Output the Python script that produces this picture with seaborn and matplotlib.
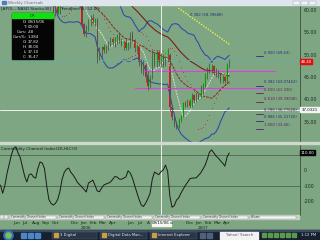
import numpy as np
import pandas as pd
import matplotlib
matplotlib.use("Agg")
import matplotlib.pyplot as plt
import matplotlib.dates as mdates
from matplotlib.patches import Rectangle, Circle
import seaborn as sns

sns.set_theme(style="white")
plt.rcParams['font.family'] = ['DejaVu Sans']

# ---------------- data (weekly APOL bars) ----------------
start_date = "2005-04-22"
opens = [71.5, 72.5,
         73.0, 74.0, 75.5, 77.0, 78.0, 79.0, 80.0, 79.0, 78.0, 77.5,
         77.0, 75.0, 74.0, 75.0, 74.0, 72.0, 73.0, 72.0, 70.0, 71.0,
         68.0, 66.0, 63.5, 59.6, 60.6, 59.4, 62.0, 63.5, 64.0, 65.5,
         66.0, 65.0, 64.0, 63.0, 62.5, 61.0, 56.8, 54.6, 56.0, 57.5,
         58.3, 57.2, 57.8, 49.2, 51.2, 51.7, 51.0, 51.8, 52.5, 53.6,
         52.8, 53.5, 54.2, 53.0, 52.3, 53.0, 51.4, 52.4, 54.6, 53.4,
         51.4, 51.9, 48.3, 46.5, 47.8, 45.0, 43.0, 44.8, 50.2, 48.0,
         50.5, 48.3, 49.5, 47.8, 49.0, 50.0, 38.2, 36.0, 34.5, 33.8,
         35.3, 36.2, 39.2, 38.8, 39.6, 38.5, 41.0, 39.8, 41.0, 40.5,
         42.8, 43.3, 45.6, 46.8, 46.5, 47.4, 46.0, 45.4, 46.0, 44.2,
         45.0, 44.1, 47.8]
highs = [73.5, 74.2,
         75.0, 76.2, 77.8, 78.8, 80.0, 81.0, 80.8, 79.6, 78.8, 78.2,
         77.4, 75.6, 76.0, 75.8, 74.4, 73.8, 73.6, 72.4, 71.8, 71.4,
         68.6, 66.8, 64.0, 61.5, 61.8, 62.5, 64.0, 65.0, 66.0, 67.0,
         66.6, 65.8, 64.6, 63.6, 62.8, 61.4, 57.2, 56.6, 58.0, 58.8,
         59.0, 58.3, 58.3, 51.8, 52.0, 52.3, 52.2, 53.0, 54.0, 54.0,
         53.9, 54.6, 55.0, 53.7, 53.3, 53.8, 52.8, 55.0, 55.2, 53.6,
         52.4, 52.0, 49.0, 48.8, 48.2, 46.3, 45.4, 51.0, 50.5, 51.0,
         50.9, 50.3, 50.2, 49.8, 51.5, 50.3, 38.6, 36.6, 35.0, 35.8,
         36.5, 39.5, 39.6, 40.0, 40.2, 41.5, 41.2, 41.4, 41.5, 43.2,
         43.7, 46.0, 47.2, 48.1, 48.0, 47.6, 47.0, 46.6, 46.1, 45.5,
         45.2, 48.2, 49.0]
lows = [71.0, 72.0,
        72.0, 73.4, 75.0, 76.2, 77.2, 78.2, 78.2, 77.0, 76.6, 76.0,
        74.2, 73.0, 73.5, 73.2, 71.2, 71.5, 71.2, 69.4, 69.2, 67.5,
        65.4, 63.5, 59.3, 58.6, 59.0, 59.0, 61.5, 62.6, 63.4, 64.6,
        64.2, 63.4, 62.4, 61.6, 60.6, 56.4, 54.2, 54.0, 55.2, 56.4,
        56.8, 56.5, 48.1, 48.8, 49.5, 50.4, 50.3, 51.0, 51.7, 52.2,
        51.8, 52.5, 52.6, 52.0, 51.0, 51.0, 51.0, 51.6, 52.8, 50.6,
        50.5, 47.5, 45.9, 45.4, 43.9, 42.1, 42.5, 44.5, 47.3, 47.2,
        47.5, 47.2, 47.2, 47.4, 48.4, 37.5, 35.4, 33.9, 33.37, 33.6,
        34.9, 36.0, 38.4, 38.2, 38.0, 38.2, 39.3, 39.4, 39.9, 40.3,
        41.3, 42.8, 44.5, 45.9, 45.9, 45.5, 45.0, 44.8, 43.7, 43.7,
        43.7, 43.9, 47.0]
closes = [72.5, 73.0,
          74.0, 75.5, 77.0, 78.0, 79.0, 80.0, 79.0, 78.0, 77.5, 77.0,
          75.0, 74.0, 75.0, 74.0, 72.0, 73.0, 72.0, 70.0, 71.0, 68.0,
          66.0, 64.0, 59.6, 60.6, 59.4, 62.0, 63.5, 64.0, 65.5, 66.0,
          65.0, 64.0, 63.0, 62.5, 61.2, 56.8, 54.6, 56.0, 57.5, 58.3,
          57.2, 57.8, 49.2, 51.2, 51.7, 51.0, 51.8, 52.5, 53.6, 52.8,
          53.5, 54.2, 53.0, 52.3, 53.0, 51.4, 52.4, 54.6, 53.4, 51.4,
          51.9, 48.3, 46.5, 47.8, 45.0, 43.0, 44.8, 50.2, 48.0, 50.5,
          48.3, 49.5, 47.8, 49.0, 51.0, 38.2, 36.0, 34.5, 33.8, 35.3,
          36.2, 39.2, 38.8, 39.6, 38.5, 41.0, 39.8, 41.0, 40.5, 42.8,
          43.3, 45.6, 46.8, 46.5, 47.4, 46.0, 45.4, 46.0, 44.2, 45.0,
          44.1, 47.8, 48.4]
cci_values = [-97, -150, -100, -20, 40, 100, 140, 150, 110, 80,
              20, -40, -77, -30, -25, -45, -52, 10, 52, 45,
              10, -100, -190, -215, -226, -215, -190, -140, -60, -15,
              5, 13, -15, -32, -55, -80, -95, -110, -125, -142,
              -84, -75, -65, -100, -135, -140, -115, -97, -90, -85,
              -77, -60, -42, -45, -58, -60, -52, -45, -5, -20,
              -52, -100, -145, -190, -225, -235, -213, -185, -150, -60,
              -13, -22, -30, -10, 0, 32, -10, -170, -240, -230,
              -194, -180, -150, -125, -100, -80, -58, -52, -52, -50,
              -35, -19, 5, 30, 70, 115, 130, 110, 90, 77,
              60, 45, 25, 84, 110]

price_ticks = [35, 40, 45, 50, 55, 60]
cci_ticks = [100, 0, -100, -200]
fib_ratios = ["0.000", "0.382", "0.500", "0.618", "0.786", "0.886", "1.000"]
fib_prices = [49.63, 43.07462, 41.330, 39.39038, 36.77626, 35.21726, 33.46]
fib_texts = ["49.63", "43.07462", "41.330", "39.39038", "36.77626", "35.21726", "33.46"]
fib_colors = ["#22307a", "#22307a", "#6a1f55", "#6a1f55", "#5a1f60", "#22307a", "#5a1f60"]
magenta_levels = [46.4, 42.5]
magenta_from = ["2006-07-21", "2006-06-23"]
magenta_to = ["2007-09-14", "2007-08-10"]
teal_level = 48.8
cross_date = "2006-09-15"
cross_price = 37.65
trend_dates = ["2006-11-09", "2007-04-23"]
trend_prices = [60.45, 52.2]
month_labels = ["Jun", "Jul", "Aug", "Sep", "Oct", "Dec", "Jan", "Feb", "Mar", "Apr",
                "Jun", "Jul", "A", "ct", "Dec", "Jan", "Feb", "Mar", "Apr"]
month_dates = ["2005-06-01", "2005-07-01", "2005-08-01", "2005-09-01", "2005-10-01",
               "2005-12-01", "2006-01-01", "2006-02-01", "2006-03-01", "2006-04-01",
               "2006-06-01", "2006-07-01", "2006-08-01", "2006-10-14", "2006-12-01",
               "2007-01-01", "2007-02-01", "2007-03-01", "2007-04-01"]
year_labels = ["2006", "2007"]
year_dates = ["2006-01-01", "2007-01-08"]
info_keys = ["D:", "T:", "Curs:", "Curs%:", "O:", "H:", "L:", "C:"]
info_vals = ["09/15/06", "00:00", ".48", "1.384", "37.82", "38.00", "37.10", "35.47"]

# ---------------- frame ----------------
dates = pd.date_range(start_date, periods=len(closes), freq="7D")
dn = mdates.date2num(dates)
df = pd.DataFrame({"d": dn, "o": opens, "h": highs, "l": lows, "c": closes})
df["cci"] = cci_values

W, H = 320, 240
BG = "#7ea683"
TXT = "#1c2a1c"
fig = plt.figure(figsize=(3.2, 2.4), dpi=100, facecolor=BG)


def fb(x, y, w, h):
    return [x / W, 1 - (y + h) / H, w / W, h / H]


base = fig.add_axes([0, 0, 1, 1], zorder=0)
base.set_xlim(0, W); base.set_ylim(H, 0); base.axis("off")

x0 = dn[0] - 1.5
xspan = 300 * 7 / 2.2
XL = (x0, x0 + xspan)

# ---------- price panel ----------
ax = fig.add_axes(fb(0, 5, 300, 137), zorder=2)
ax.set_facecolor(BG)
ax.set_xlim(*XL)
ax.set_ylim(30.47, 61.12)

# indicators derived from the bars
c = df["c"]
mid20 = c.rolling(20, min_periods=1).mean()
sd20 = c.rolling(20, min_periods=2).std(ddof=0).bfill()
ind = pd.DataFrame({"d": dn, "up": mid20 + 2 * sd20, "lo": mid20 - 2 * sd20,
                    "mid": mid20,
                    "s7": c.rolling(7, min_periods=1).mean(),
                    "s50": c.rolling(50, min_periods=1).mean()})
sns.lineplot(data=ind, x="d", y="up", ax=ax, color="#3048a8", lw=0.75)
sns.lineplot(data=ind, x="d", y="lo", ax=ax, color="#3048a8", lw=0.75)
sns.lineplot(data=ind, x="d", y="s50", ax=ax, color="#7c1410", lw=0.75)
sns.lineplot(data=ind, x="d", y="mid", ax=ax, color="#8e2a18", lw=0.7, linestyle=(0, (3, 1)))
sns.lineplot(data=ind, x="d", y="s7", ax=ax, color="#dcdfcf", lw=0.7, linestyle=(0, (2, 1)))

# parabolic SAR
h_ = np.array(highs); l_ = np.array(lows)
sar = np.zeros(len(h_)); bull = True; af = 0.02; ep = h_[0]; sar[0] = l_[0]
for i in range(1, len(h_)):
    s = sar[i - 1] + af * (ep - sar[i - 1])
    if bull:
        s = min(s, l_[i - 1], l_[max(i - 2, 0)])
        if l_[i] < s:
            bull = False; s = ep; ep = l_[i]; af = 0.02
        elif h_[i] > ep:
            ep = h_[i]; af = min(af + 0.02, 0.2)
    else:
        s = max(s, h_[i - 1], h_[max(i - 2, 0)])
        if h_[i] > s:
            bull = True; s = ep; ep = h_[i]; af = 0.02
        elif l_[i] < ep:
            ep = l_[i]; af = min(af + 0.02, 0.2)
    sar[i] = s
sns.scatterplot(x=dn, y=sar, ax=ax, color="#c83030", s=0.6, linewidth=0, legend=False)

# horizontal / crosshair lines
ax.axhline(teal_level, color="#5fb4aa", lw=0.6)
for lv, a, b in zip(magenta_levels, magenta_from, magenta_to):
    ax.plot([mdates.datestr2num(a), mdates.datestr2num(b)], [lv, lv], color="#e03ce0", lw=0.8)
ax.axhline(cross_price, color="#eef2ee", lw=0.7)
ax.axvline(mdates.datestr2num(cross_date), color="#eef2ee", lw=0.7)
ax.plot([mdates.datestr2num(t) for t in trend_dates], trend_prices, color="#f0f040",
        lw=1.0, linestyle=(0, (1, 1)))

# candles
up = df["c"] >= df["o"]
ax.vlines(df["d"], df["l"], df["h"], color="#4a5a4a", lw=0.6)
body_lo = np.minimum(df["o"], df["c"])
body_h = np.maximum(np.abs(df["c"] - df["o"]), 0.15)
ax.bar(df["d"], body_h, bottom=body_lo, width=4.6,
       color=np.where(up, "#12e812", "#ee1010"), linewidth=0)

# fib levels
fib_x0 = x0 + 256 * 7 / 2.2
fib_x1 = x0 + 263 * 7 / 2.2
for r, p, t, col in zip(fib_ratios, fib_prices, fib_texts, fib_colors):
    ax.plot([fib_x0, fib_x1], [p, p], color=col, lw=0.6)
    ax.text(fib_x1 + 3, p + 0.35, f"{r} ({t})", fontsize=2.7, color=col, va="bottom", ha="left")
ax.text(x0 + 190 * 7 / 2.2, 58.9, "0.382 (58.39688)", fontsize=2.7, color="#22307a",
        va="center", ha="left")

ax.set_xticks([])
ax.yaxis.tick_right()
ax.set_yticks(price_ticks)
ax.set_yticklabels([f"{v:.2f}" for v in price_ticks], fontsize=3.4, color=TXT)
ax.tick_params(axis="y", length=0, pad=2.5)
for s in ["top", "left", "bottom"]:
    ax.spines[s].set_visible(False)
ax.spines["right"].set_color("#3c4c3c"); ax.spines["right"].set_linewidth(0.6)
ax.set_xlabel(""); ax.set_ylabel("")

# ---------- CCI panel ----------
ax2 = fig.add_axes(fb(0, 144, 300, 71), zorder=2)
ax2.set_facecolor(BG)
ax2.set_xlim(*XL)
ax2.set_ylim(-290, 167.7)
ax2.axhline(100, color="#4a6a50", lw=0.6)
ax2.axhline(-100, color="#4a6a50", lw=0.6)
ax2.axvline(mdates.datestr2num(cross_date), color="#eef2ee", lw=0.7)
sns.lineplot(data=df, x="d", y="cci", ax=ax2, color="#1a1a1a", lw=0.7)
ax2.set_xticks([])
ax2.yaxis.tick_right()
ax2.set_yticks(cci_ticks)
# the "100" tick is hidden under the current-value box in the reference
ax2.set_yticklabels(["" if v == 100 else str(v) for v in cci_ticks], fontsize=3.4, color=TXT)
ax2.tick_params(axis="y", length=0, pad=2.5)
for s in ["top", "left", "bottom"]:
    ax2.spines[s].set_visible(False)
ax2.spines["right"].set_color("#3c4c3c"); ax2.spines["right"].set_linewidth(0.6)
ax2.set_xlabel(""); ax2.set_ylabel("")
ax2.text(0.004, 0.955, "Commodity Channel Index(20,HLC/3)", transform=ax2.transAxes,
         fontsize=3.0, color="#1a1a1a", va="top", ha="left")

# ---------- overlay decorations (pixel coordinates) ----------
ov = fig.add_axes([0, 0, 1, 1], zorder=5)
ov.set_xlim(0, W); ov.set_ylim(H, 0); ov.axis("off"); ov.patch.set_alpha(0)

# window title bar
ov.add_patch(Rectangle((0, 0), 320, 5, color="#dfe5ec"))
ov.add_patch(Rectangle((2, 0.8), 4, 3.4, color="#4f7fb8"))
ov.text(8, 2.6, "Weekly Chartsab", fontsize=3.0, color="#6a7480", va="center", ha="left")
for bx in [293, 301, 309]:
    ov.add_patch(Rectangle((bx, 0.5), 7, 4, facecolor="#eef1f5", edgecolor="#9aa4b0", lw=0.3))
ov.text(1, 8.5, "[APOL - NASD Stocks,W]", fontsize=3.0, color="#1a2050", va="center", ha="left")
ov.text(60, 8.5, "Trendline(W) 52.00", fontsize=3.0, color="#1a2050", va="center", ha="left")

# panel separator
ov.add_patch(Rectangle((0, 142), 320, 2, color="#cfd8cf"))

# data window box
ov.add_patch(Rectangle((12, 13), 41, 46, color="#050505"))
ov.add_patch(Rectangle((12, 13), 41, 5, color="#10e010"))
ov.text(32.5, 15.6, "DR", fontsize=2.8, color="#0a3a0a", ha="center", va="center")
for i, (k, v) in enumerate(zip(info_keys, info_vals)):
    yy = 22 + i * 5
    ov.text(27, yy, k, fontsize=2.8, color="#e8e8e8", ha="right", va="center")
    ov.text(28, yy, v, fontsize=2.8, color="#e8e8e8", ha="left", va="center")


# right-axis value boxes
def ybox_price(p):
    return 10 + (60 - p) * 4.47


ov.add_patch(Rectangle((300, ybox_price(closes[-1]) - 2.5), 12, 5, color="#e01010"))
ov.text(306, ybox_price(closes[-1]), f"{closes[-1]:.2f}", fontsize=2.8, color="white",
        ha="center", va="center")
ov.add_patch(Rectangle((300, ybox_price(cross_price) - 2.5), 19, 5, color="#f4f4f4"))
ov.text(309.5, ybox_price(cross_price), "37.0321", fontsize=2.8, color="#111111",
        ha="center", va="center")
ycci = 170 - cci_values[-1] * 0.155
ov.add_patch(Rectangle((300, ycci - 2.5), 15, 5, color="#050505"))
ov.text(307.5, ycci, f"{cci_values[-1]:.2f}", fontsize=2.8, color="white", ha="center", va="center")

# scrollbar with indicator tabs
ov.add_patch(Rectangle((0, 215), 299, 4, color="#c9d0c9"))
ov.add_patch(Rectangle((0, 215), 4, 4, facecolor="#e8ece8", edgecolor="#7a847a", lw=0.3))
ov.add_patch(Rectangle((4, 215), 4, 4, facecolor="#e8ece8", edgecolor="#7a847a", lw=0.3))
tabs = ["Commodity Channel Index", "Commodity Channel Index", "Commodity Channel Index",
        "Commodity Channel Index", "Commodity Channel Index", "Volume"]
for i, t in enumerate(tabs):
    tx = 10 + i * 48
    ov.add_patch(Rectangle((tx, 215.5), 46, 3, facecolor="#f4f6f4", edgecolor="#8a948a", lw=0.3))
    ov.text(tx + 1, 217.1, t, fontsize=1.9, color="#303830", ha="left", va="center")


# month & year labels
def dpx(ds):
    return (mdates.datestr2num(ds) - x0) / xspan * 300


for lab, ds in zip(month_labels, month_dates):
    ov.text(dpx(ds), 223.3, lab, fontsize=3.1, color=TXT, ha="left", va="center")
for lab, ds in zip(year_labels, year_dates):
    ov.text(dpx(ds), 228.3, lab, fontsize=3.1, color=TXT, ha="left", va="center")
cx = dpx(cross_date)
ov.add_patch(Rectangle((cx - 9.5, 220.5), 19, 5.5, color="#f6f6f6"))
ov.text(cx, 223.3, "09/15/06", fontsize=2.9, color="#111111", ha="center", va="center")

# taskbar
ov.add_patch(Rectangle((0, 230), 320, 10, color="#16202e"))
ov.add_patch(Rectangle((0, 230), 320, 1.2, color="#3a4a60"))
ov.add_patch(Circle((8.5, 235.5), 4.6, color="#2f6fc8"))
ov.add_patch(Circle((8.5, 235.5), 2.6, color="#7cc04a"))
for qx in [21, 28, 35]:
    ov.add_patch(Rectangle((qx, 232.5), 5, 5, color="#4a86c8"))
buttons = [(52, 45, "3 Digital"), (100, 47, "Digital Data Man..."), (150, 47, "Internet Explorer")]
for bx, bw, t in buttons:
    ov.add_patch(Rectangle((bx, 231.5), bw, 7.5, facecolor="#2a3648", edgecolor="#55657a", lw=0.3))
    ov.add_patch(Rectangle((bx + 2, 233.3), 4, 4, color="#c8a040"))
    ov.text(bx + 8, 235.3, t, fontsize=2.7, color="#e8ecf0", ha="left", va="center")
ov.add_patch(Rectangle((200, 232.5), 5, 5, color="#506078"))
ov.add_patch(Rectangle((207, 232.5), 5, 5, color="#506078"))
ov.add_patch(Rectangle((220, 232), 38, 6.5, color="#f2f2f2"))
ov.text(239, 235.3, "Yahoo! Search", fontsize=2.7, color="#555555", ha="center", va="center")
for ix in [262, 268, 274, 280, 286, 292]:
    ov.add_patch(Rectangle((ix, 233), 4, 4, color="#5a9a50"))
ov.text(309, 235.3, "1:12 PM", fontsize=2.7, color="#e8ecf0", ha="center", va="center")

fig.savefig("out.png", dpi=100, facecolor=BG)
